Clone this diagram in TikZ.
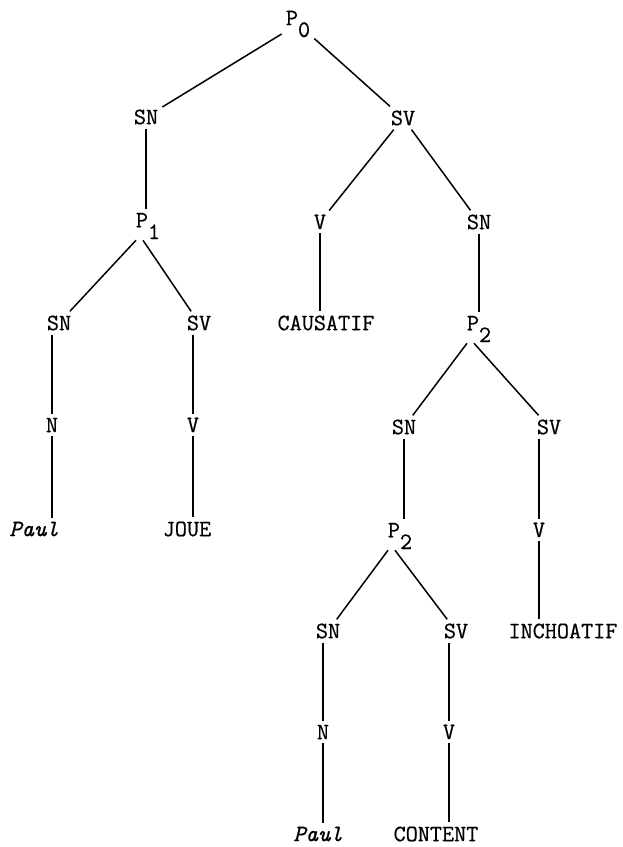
\documentclass[tikz,border=0pt]{standalone}
\usepackage{fontspec}
\usetikzlibrary{positioning}

\newfontfamily\typew[FakeBold=0.6]{Latin Modern Mono}
\newcommand{\psub}[1]{\raisebox{-0.5em}{#1}}
\tikzset{
  cat/.style={font=\fontsize{23.5}{28}\selectfont\typew, inner sep=4pt},
  word/.style={cat, font=\fontsize{23.5}{28}\selectfont\typew\itshape},
  branch/.style={line width=1.5pt},
}

\begin{document}
\begin{tikzpicture}[x=1pt, y=-1pt, on grid]
  \useasboundingbox (0,0) rectangle (623,847);
  % top: P0
  \node[cat] (p0) at (298,24) {P\psub{0}};
  \node[cat] (sn1) [below left=93pt and 152pt of p0] {SN};
  \node[cat] (sv1) [below right=94pt and 105pt of p0] {SV};
  % P1 side
  \node[cat] (p1) [below right=109pt and 2pt of sn1] {P\psub{1}};
  \node[cat] (sn3) [below left=97pt and 89pt of p1] {SN};
  \node[cat] (sv3) [below right=97pt and 51pt of p1] {SV};
  \node[cat] (n4) [below left=102pt and 7pt of sn3] {N};
  \node[cat] (v4) [below left=102pt and 6pt of sv3] {V};
  \node[word] (paul1) [below left=104pt and 18pt of n4] {Paul};
  \node[cat] (joue) [below left=104pt and 6pt of v4] {JOUE};
  % causatif side
  \node[cat] (v1) [below left=104pt and 83pt of sv1] {V};
  \node[cat] (sn2) [below right=104pt and 76pt of sv1] {SN};
  \node[cat] (caus) [below right=101pt and 6pt of v1] {CAUSATIF};
  \node[cat] (p2) [below=107pt of sn2] {P\psub{2}};
  \node[cat] (sn4) [below left=98pt and 75pt of p2] {SN};
  \node[cat] (sv4) [below right=98pt and 70pt of p2] {SV};
  \node[cat] (v5) [below left=103pt and 10pt of sv4] {V};
  \node[cat] (inch) [below right=101pt and 24pt of v5] {INCHOATIF};
  % inner P2
  \node[cat] (p2b) [below left=109pt and 4pt of sn4] {P\psub{2}};
  \node[cat] (sn6) [below left=95pt and 72pt of p2b] {SN};
  \node[cat] (sv6) [below right=95pt and 56pt of p2b] {SV};
  \node[cat] (n7) [below left=101pt and 5pt of sn6] {N};
  \node[cat] (v7) [below left=101pt and 7pt of sv6] {V};
  \node[word] (paul2) [below left=102pt and 5pt of n7] {Paul};
  \node[cat] (content) [below left=102pt and 13pt of v7] {CONTENT};

  \draw[branch]
    (p0) edge (sn1)
         edge (sv1)
    (sn1) edge (sn1 |- p1.north)
    ([xshift=-12pt,yshift=3pt]p1.south) edge (sn3)
    ([xshift=-5pt,yshift=3pt]p1.south) edge (sv3)
    (n4 |- sn3.south) edge (n4)
    (v4 |- sv3.south) edge (v4)
    (n4) edge (n4 |- paul1.north)
    (v4) edge (v4 |- joue.north)
    (sv1) edge (v1)
          edge (sn2)
    (v1) edge (v1 |- caus.north)
    (sn2) edge (sn2 |- p2.north)
    ([xshift=-12pt,yshift=3pt]p2.south) edge (sn4)
    ([xshift=-5pt,yshift=3pt]p2.south) edge (sv4)
    (v5 |- sv4.south) edge (v5)
    (v5) edge (v5 |- inch.north)
    (sn4) edge (sn4 |- p2b.north)
    ([xshift=-12pt,yshift=3pt]p2b.south) edge (sn6)
    ([xshift=-5pt,yshift=3pt]p2b.south) edge (sv6)
    (n7 |- sn6.south) edge (n7)
    (v7 |- sv6.south) edge (v7)
    (n7) edge (n7 |- paul2.north)
    (v7) edge (v7 |- content.north);
\end{tikzpicture}
\end{document}
